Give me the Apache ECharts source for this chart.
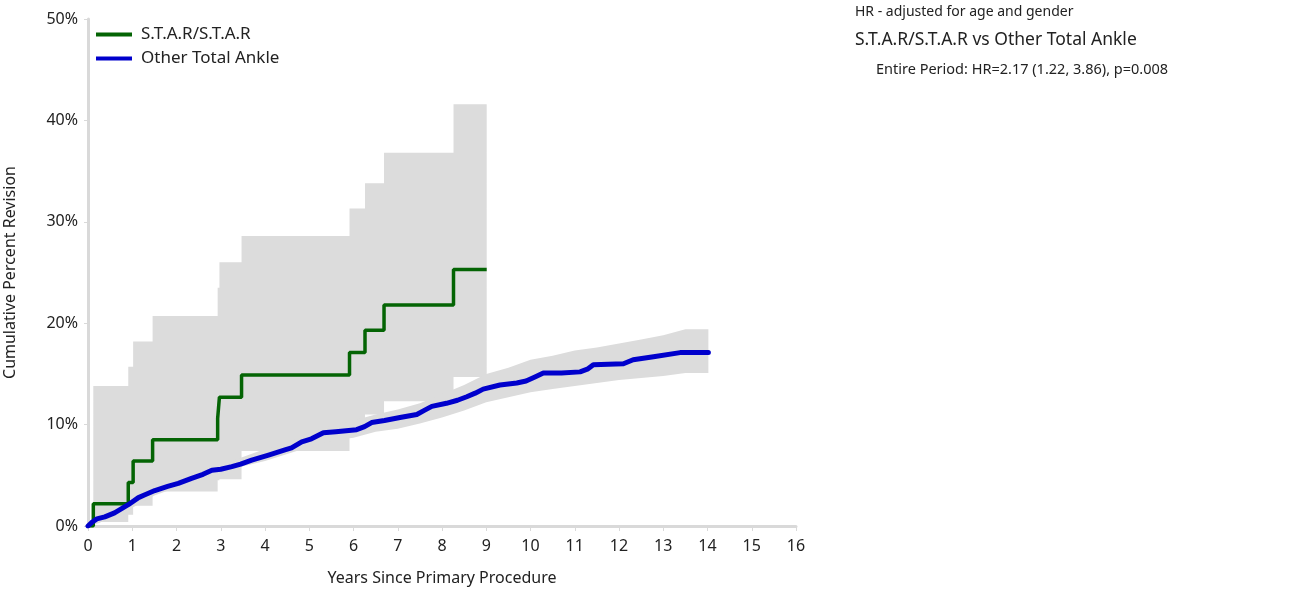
<!DOCTYPE html>
<html>
<head>
<meta charset="utf-8">
<script src="https://cdn.jsdelivr.net/npm/echarts@6/dist/echarts.min.js"></script>
<style>html,body{margin:0;padding:0;background:#fff;}#c{width:1289px;height:589px;}</style>
</head>
<body>
<div id="c"></div>
<script>
// ---- data (years, cumulative percent revision) ----
const xTicks = [0,1,2,3,4,5,6,7,8,9,10,11,12,13,14,15,16];
const yTicks = [0,10,20,30,40,50];

const starYears = [0, 0.12, 0.91, 1.02, 1.46, 2.93, 2.97, 3.47, 5.91, 6.26, 6.69, 8.26, 9.01];
const starRev   = [0, 2.2, 4.3, 6.4, 8.5, 10.6, 12.7, 14.9, 17.1, 19.3, 21.8, 25.3, 25.3];
const starLower = [0, 0.4, 1.1, 2.0, 3.4, 4.5, 4.6, 7.4, 9.8, 11.0, 12.3, 14.7, 14.7];
const starUpper = [0, 13.8, 15.7, 18.2, 20.7, 23.5, 26.0, 28.6, 31.3, 33.8, 36.8, 41.6, 41.6];

const otherYears = [0, 0.1, 0.2, 0.38, 0.6, 0.91, 1.14, 1.3, 1.51, 1.8, 2.04, 2.34, 2.6, 2.8, 3.0, 3.25, 3.45, 3.7, 4.08, 4.45, 4.6, 4.83, 5.05, 5.32, 5.6, 6.07, 6.25, 6.41, 6.7, 7.05, 7.43, 7.6, 7.77, 8.1, 8.35, 8.56, 8.75, 8.93, 9.31, 9.69, 9.9, 10.1, 10.29, 10.7, 11.12, 11.3, 11.42, 12.1, 12.32, 12.78, 13.38, 14.02];
const otherRev   = [0, 0.4, 0.7, 0.9, 1.3, 2.1, 2.8, 3.1, 3.5, 3.9, 4.2, 4.7, 5.1, 5.5, 5.6, 5.85, 6.1, 6.5, 7.0, 7.5, 7.7, 8.3, 8.6, 9.2, 9.3, 9.5, 9.8, 10.2, 10.4, 10.7, 11.0, 11.4, 11.8, 12.1, 12.4, 12.75, 13.1, 13.5, 13.9, 14.1, 14.3, 14.7, 15.1, 15.1, 15.2, 15.5, 15.9, 16.0, 16.4, 16.7, 17.1, 17.1];

const otherBandYears = [0, 0.25, 0.5, 1.0, 1.5, 2.0, 2.5, 3.0, 3.5, 4.0, 4.5, 5.0, 5.5, 6.0, 6.5, 7.0, 7.5, 8.0, 8.5, 9.0, 9.5, 10.0, 10.5, 11.0, 11.5, 12.0, 12.5, 13.0, 13.5, 14.02];
const otherLower = [0, 0.3, 0.8, 1.8, 3.0, 3.8, 4.5, 5.2, 5.9, 6.4, 7.1, 7.8, 8.4, 8.7, 9.3, 9.6, 10.1, 10.7, 11.4, 12.2, 12.7, 13.2, 13.5, 13.8, 14.1, 14.4, 14.6, 14.8, 15.1, 15.1];
const otherUpper = [0, 0.9, 1.5, 2.6, 4.0, 4.7, 5.5, 6.1, 6.8, 7.6, 8.2, 9.2, 9.9, 10.4, 11.0, 11.5, 12.1, 13.0, 13.9, 15.0, 15.6, 16.4, 16.8, 17.3, 17.6, 18.0, 18.4, 18.8, 19.4, 19.4];

const seriesNames = ['S.T.A.R/S.T.A.R', 'Other Total Ankle'];
const noteLines = ['HR - adjusted for age and gender', 'S.T.A.R/S.T.A.R vs Other Total Ankle', 'Entire Period: HR=2.17 (1.22, 3.86), p=0.008'];

// ---- chart ----
const FONT = 'Noto Sans';
const TXT = '#222';
const AXIS = '#d9d9d9';
const BAND = '#dcdcdc';

function zip(xs, ys) { return xs.map((x, i) => [x, ys[i]]); }

function bandSeries(xs, lo, hi, stepped) {
  return {
    type: 'custom', silent: true, z: 1,
    data: [[xs[0], lo[0]]],
    renderItem: function (params, api) {
      const pts = [];
      const n = xs.length;
      if (stepped) {
        for (let i = 0; i < n - 1; i++) pts.push(api.coord([xs[i], hi[i]]), api.coord([xs[i + 1], hi[i]]));
        for (let i = n - 2; i >= 0; i--) pts.push(api.coord([xs[i + 1], lo[i]]), api.coord([xs[i], lo[i]]));
      } else {
        for (let i = 0; i < n; i++) pts.push(api.coord([xs[i], hi[i]]));
        for (let i = n - 1; i >= 0; i--) pts.push(api.coord([xs[i], lo[i]]));
      }
      return { type: 'polygon', shape: { points: pts }, style: { fill: BAND } };
    }
  };
}

const chart = echarts.init(document.getElementById('c'), null, { renderer: 'canvas' });
chart.setOption({
  animation: false,
  textStyle: { fontFamily: FONT },
  grid: { left: 88, right: 493, top: 19, bottom: 63, containLabel: false, outerBoundsMode: 'none' },
  legend: {
    data: seriesNames,
    orient: 'vertical', left: 96, top: 26, padding: 0,
    icon: 'rect', itemWidth: 36, itemHeight: 4, itemGap: 7,
    textStyle: { fontFamily: FONT, fontSize: 17, color: TXT, padding: [0, 0, 0, 4] }
  },
  xAxis: {
    type: 'value', min: 0, max: 16, interval: 1,
    name: 'Years Since Primary Procedure', nameLocation: 'middle', nameGap: 44,
    nameTextStyle: { fontFamily: FONT, fontSize: 16, color: TXT },
    axisLine: { show: true, lineStyle: { color: AXIS, width: 3 } },
    axisTick: { show: true, length: 5, lineStyle: { color: AXIS } },
    axisLabel: { fontFamily: FONT, fontSize: 16, color: TXT, margin: 12 },
    splitLine: { show: false }
  },
  yAxis: {
    type: 'value', min: 0, max: 50, interval: 10,
    name: 'Cumulative Percent Revision', nameLocation: 'middle', nameGap: 70,
    nameTextStyle: { fontFamily: FONT, fontSize: 16, color: TXT },
    axisLine: { show: true, lineStyle: { color: AXIS, width: 3 } },
    axisTick: { show: true, length: 4, lineStyle: { color: AXIS } },
    axisLabel: { fontFamily: FONT, fontSize: 16, color: TXT, margin: 10, formatter: '{value}%' },
    splitLine: { show: false }
  },
  series: [
    bandSeries(starYears, starLower, starUpper, true),
    bandSeries(otherBandYears, otherLower, otherUpper, false),
    {
      name: seriesNames[0], type: 'line', step: 'end', z: 3,
      data: zip(starYears, starRev), showSymbol: false, symbol: 'none',
      lineStyle: { color: '#046404', width: 3.5 }, itemStyle: { color: '#046404' }
    },
    {
      name: seriesNames[1], type: 'line', z: 4,
      data: zip(otherYears, otherRev), showSymbol: false, symbol: 'none',
      lineStyle: { color: '#0000cc', width: 5, cap: 'round', join: 'round' }, itemStyle: { color: '#0000cc' }
    }
  ],
  graphic: [
    { type: 'text', left: 855, top: 5, style: { text: noteLines[0], font: '14px "' + FONT + '"', fill: TXT } },
    { type: 'text', left: 855, top: 31, style: { text: noteLines[1], font: '17.5px "' + FONT + '"', fill: TXT } },
    { type: 'text', left: 876, top: 62, style: { text: noteLines[2], font: '14.5px "' + FONT + '"', fill: TXT } }
  ]
});
</script>
</body>
</html>
